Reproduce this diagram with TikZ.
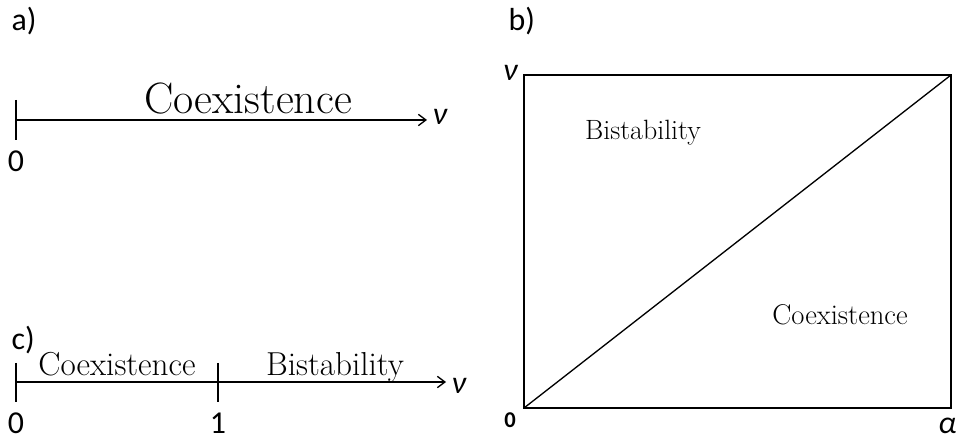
\documentclass[tikz,border=0pt]{standalone}
\usepackage{fontspec}
\newfontfamily\lblfont{Carlito}
\usetikzlibrary{arrows.meta,positioning}

\begin{document}
\begin{tikzpicture}[
  x=0.02646cm, y=-0.02646cm,
  line width=1pt,
  axis/.style={-{Straight Barb[length=2mm,width=3mm]}},
  lbl/.style={font=\lblfont\fontsize{24}{28}\selectfont, inner sep=0pt},
  regime/.style={font=\fontsize{25}{30}\selectfont, anchor=base, inner sep=0pt},
]
\useasboundingbox (0,0) rectangle (958,440);

% a)
\node[lbl, anchor=north west] (la) at (11,7) {a)};
\coordinate (a0) at (16,120);
\coordinate (a1) at (427,120);
\draw (16,100) -- (16,140);
\draw[axis] (a0) -- (a1);
\node[lbl, anchor=west] (anu) at (432,117) {\itshape ν};
\node[lbl, anchor=north] (azero) at (16,150) {0};
\node[regime, font=\fontsize{33}{38}\selectfont] (acoex) at (248,114) {Coexistence};

% c)
\node[lbl, anchor=north west] (lc) at (11,326) {c)};
\coordinate (c0) at (16,382);
\coordinate (c1) at (218,382);
\coordinate (c2) at (446,382);
\draw (16,363) -- (16,402);
\draw (218,363) -- (218,402);
\draw[axis] (c0) -- (c2);
\node[lbl, anchor=west] (cnu) at (451,386) {\itshape ν};
\node[lbl, anchor=north] (czero) at (16,412) {0};
\node[lbl, anchor=north] (cone) at (218,412) {1};
\node[regime] (ccoex) at (117,376) {Coexistence};
\node[regime] (cbist) at (335,376) {Bistability};

% b)
\node[lbl, anchor=north west] (lb) at (508,7) {b)};
\coordinate (O) at (524,408);
\coordinate (T) at (951,75);
\draw (O) rectangle (T);
\draw (O) -- (T);
\node[lbl, anchor=east] (bnu) at (518,73) {\itshape ν};
\node[lbl, anchor=north, font=\lblfont\bfseries\fontsize{17}{20}\selectfont] (bzero) at (510,412) {0};
\node[lbl, anchor=north east] (balpha) at (957,417) {\itshape α};
\node[regime, font=\fontsize{21}{25}\selectfont] (bbist) at (643,140) {Bistability};
\node[regime, font=\fontsize{21.5}{26}\selectfont] (bcoex) at (840,325) {Coexistence};
\end{tikzpicture}
\end{document}
